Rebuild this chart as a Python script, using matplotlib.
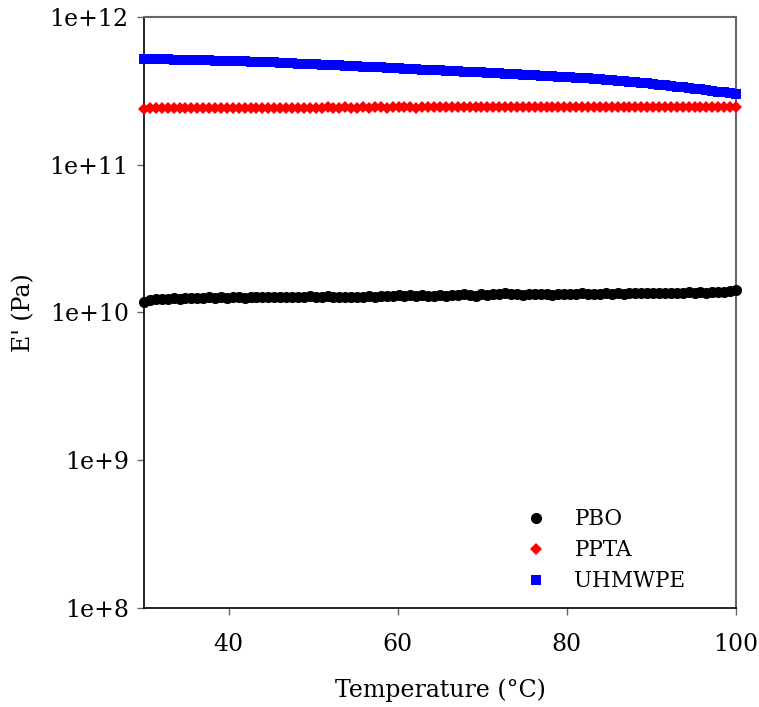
import matplotlib
matplotlib.use("Agg")
import matplotlib.pyplot as plt
from matplotlib.ticker import FixedLocator, FixedFormatter, NullLocator

# ------------------------------------------------------------
# data  (E', temperature in degC)
# ------------------------------------------------------------
temp = [30.0, 30.7, 31.4, 32.1, 32.8, 33.5, 34.2, 34.9, 35.6, 36.3,
        37.0, 37.7, 38.4, 39.1, 39.8, 40.5, 41.2, 41.9, 42.6, 43.3,
        44.0, 44.7, 45.4, 46.1, 46.8, 47.5, 48.2, 48.9, 49.6, 50.3,
        51.0, 51.7, 52.4, 53.1, 53.8, 54.5, 55.2, 55.9, 56.6, 57.3,
        58.0, 58.7, 59.4, 60.1, 60.8, 61.5, 62.2, 62.9, 63.6, 64.3,
        65.0, 65.7, 66.4, 67.1, 67.8, 68.5, 69.2, 69.9, 70.6, 71.3,
        72.0, 72.7, 73.4, 74.1, 74.8, 75.5, 76.2, 76.9, 77.6, 78.3,
        79.0, 79.7, 80.4, 81.1, 81.8, 82.5, 83.2, 83.9, 84.6, 85.3,
        86.0, 86.7, 87.4, 88.1, 88.8, 89.5, 90.2, 90.9, 91.6, 92.3,
        93.0, 93.7, 94.4, 95.1, 95.8, 96.5, 97.2, 97.9, 98.6, 99.3,
        100.0]

# PBO  (x 1e10 Pa)
pbo = [1.18, 1.21, 1.23, 1.24, 1.24, 1.25, 1.24, 1.25, 1.26, 1.25,
       1.26, 1.27, 1.26, 1.27, 1.26, 1.27, 1.27, 1.26, 1.27, 1.28,
       1.27, 1.28, 1.27, 1.28, 1.28, 1.27, 1.28, 1.28, 1.29, 1.28,
       1.28, 1.29, 1.28, 1.27, 1.28, 1.27, 1.27, 1.28, 1.29, 1.28,
       1.29, 1.30, 1.30, 1.31, 1.30, 1.31, 1.30, 1.31, 1.30, 1.30,
       1.31, 1.30, 1.32, 1.31, 1.33, 1.31, 1.30, 1.33, 1.32, 1.34,
       1.33, 1.35, 1.33, 1.34, 1.32, 1.34, 1.33, 1.34, 1.33, 1.32,
       1.33, 1.34, 1.33, 1.34, 1.35, 1.34, 1.33, 1.34, 1.35, 1.34,
       1.35, 1.34, 1.35, 1.36, 1.35, 1.35, 1.36, 1.35, 1.36, 1.36,
       1.35, 1.36, 1.37, 1.36, 1.37, 1.36, 1.38, 1.37, 1.38, 1.39,
       1.41]

# PPTA (x 1e11 Pa)
ppta = [2.39, 2.42, 2.42, 2.42, 2.42, 2.42, 2.43, 2.42, 2.43, 2.42,
        2.43, 2.42, 2.43, 2.43, 2.42, 2.43, 2.43, 2.43, 2.43, 2.42,
        2.43, 2.43, 2.43, 2.43, 2.43, 2.43, 2.43, 2.43, 2.43, 2.43,
        2.43, 2.44, 2.43, 2.43, 2.44, 2.43, 2.43, 2.44, 2.43, 2.44,
        2.44, 2.43, 2.44, 2.44, 2.44, 2.44, 2.43, 2.44, 2.44, 2.44,
        2.44, 2.44, 2.44, 2.44, 2.44, 2.44, 2.44, 2.44, 2.44, 2.44,
        2.44, 2.44, 2.45, 2.44, 2.44, 2.45, 2.44, 2.45, 2.44, 2.45,
        2.45, 2.44, 2.45, 2.45, 2.45, 2.45, 2.45, 2.45, 2.45, 2.45,
        2.45, 2.45, 2.45, 2.45, 2.45, 2.45, 2.45, 2.46, 2.45, 2.45,
        2.46, 2.45, 2.46, 2.45, 2.46, 2.46, 2.45, 2.46, 2.46, 2.46,
        2.46]

# UHMWPE (x 1e11 Pa)
uhmwpe = [5.20, 5.19, 5.18, 5.17, 5.16, 5.15, 5.14, 5.13, 5.12, 5.11,
          5.09, 5.08, 5.07, 5.06, 5.04, 5.03, 5.02, 5.00, 4.99, 4.97,
          4.96, 4.94, 4.92, 4.90, 4.88, 4.86, 4.84, 4.82, 4.80, 4.78,
          4.76, 4.74, 4.72, 4.70, 4.68, 4.66, 4.64, 4.62, 4.60, 4.58,
          4.56, 4.53, 4.51, 4.49, 4.47, 4.45, 4.43, 4.41, 4.39, 4.37,
          4.35, 4.33, 4.31, 4.29, 4.27, 4.25, 4.23, 4.21, 4.19, 4.17,
          4.15, 4.13, 4.11, 4.09, 4.07, 4.05, 4.03, 4.01, 3.99, 3.97,
          3.95, 3.93, 3.91, 3.89, 3.86, 3.84, 3.81, 3.79, 3.76, 3.73,
          3.70, 3.67, 3.64, 3.61, 3.58, 3.55, 3.52, 3.49, 3.45, 3.42,
          3.38, 3.35, 3.31, 3.27, 3.23, 3.19, 3.16, 3.12, 3.09, 3.06,
          3.03]

ytick_vals = [1e8, 1e9, 1e10, 1e11, 1e12]
ytick_labs = ["1e+8", "1e+9", "1e+10", "1e+11", "1e+12"]
xtick_vals = [40, 60, 80, 100]

# ------------------------------------------------------------
# plot
# ------------------------------------------------------------
plt.rcParams['font.family'] = ['DejaVu Serif']

fig = plt.figure(figsize=(7.59, 7.07), dpi=100)
ax  = fig.add_axes([0.1897, 0.140, 0.7800, 0.836])

ax.plot(temp, [v*1e10 for v in pbo], marker='o', ls='', ms=8.0, mew=0,
        color='black', label='PBO', clip_on=False, zorder=3)
ax.plot(temp, [v*1e11 for v in ppta], marker='D', ls='', ms=6.4, mew=0,
        color='#ff0000', label='PPTA', clip_on=False, zorder=3)
ax.plot(temp, [v*1e11 for v in uhmwpe], marker='s', ls='', ms=7.4, mew=0,
        color='#0000ff', label='UHMWPE', clip_on=False, zorder=3)

ax.set_yscale('log')
ax.set_xlim(30, 100)
ax.set_ylim(1e8, 1e12)

ax.yaxis.set_major_locator(FixedLocator(ytick_vals))
ax.yaxis.set_major_formatter(FixedFormatter(ytick_labs))
ax.yaxis.set_minor_locator(NullLocator())
ax.set_xticks(xtick_vals)
ax.set_xticklabels([str(v) for v in xtick_vals])

ax.tick_params(axis='both', direction='out', length=5, width=1.0,
               color='#666666', labelsize=17, pad=6)
ax.tick_params(axis='x', pad=13)

for s in ['top', 'right']:
    ax.spines[s].set_color('#666666')
    ax.spines[s].set_linewidth(1.5)
for s in ['left', 'bottom']:
    ax.spines[s].set_color('black')
    ax.spines[s].set_linewidth(1.2)

ax.set_xlabel('Temperature (°C)', fontsize=17, labelpad=16)
ax.set_ylabel("E' (Pa)", fontsize=17, labelpad=10)

leg = ax.legend(loc='upper left', bbox_to_anchor=(0.618, 0.176), frameon=False,
                fontsize=15.5, handletextpad=0.8, labelspacing=0.42,
                borderpad=0.2, borderaxespad=0.0)

fig.savefig("out.png", dpi=100)
